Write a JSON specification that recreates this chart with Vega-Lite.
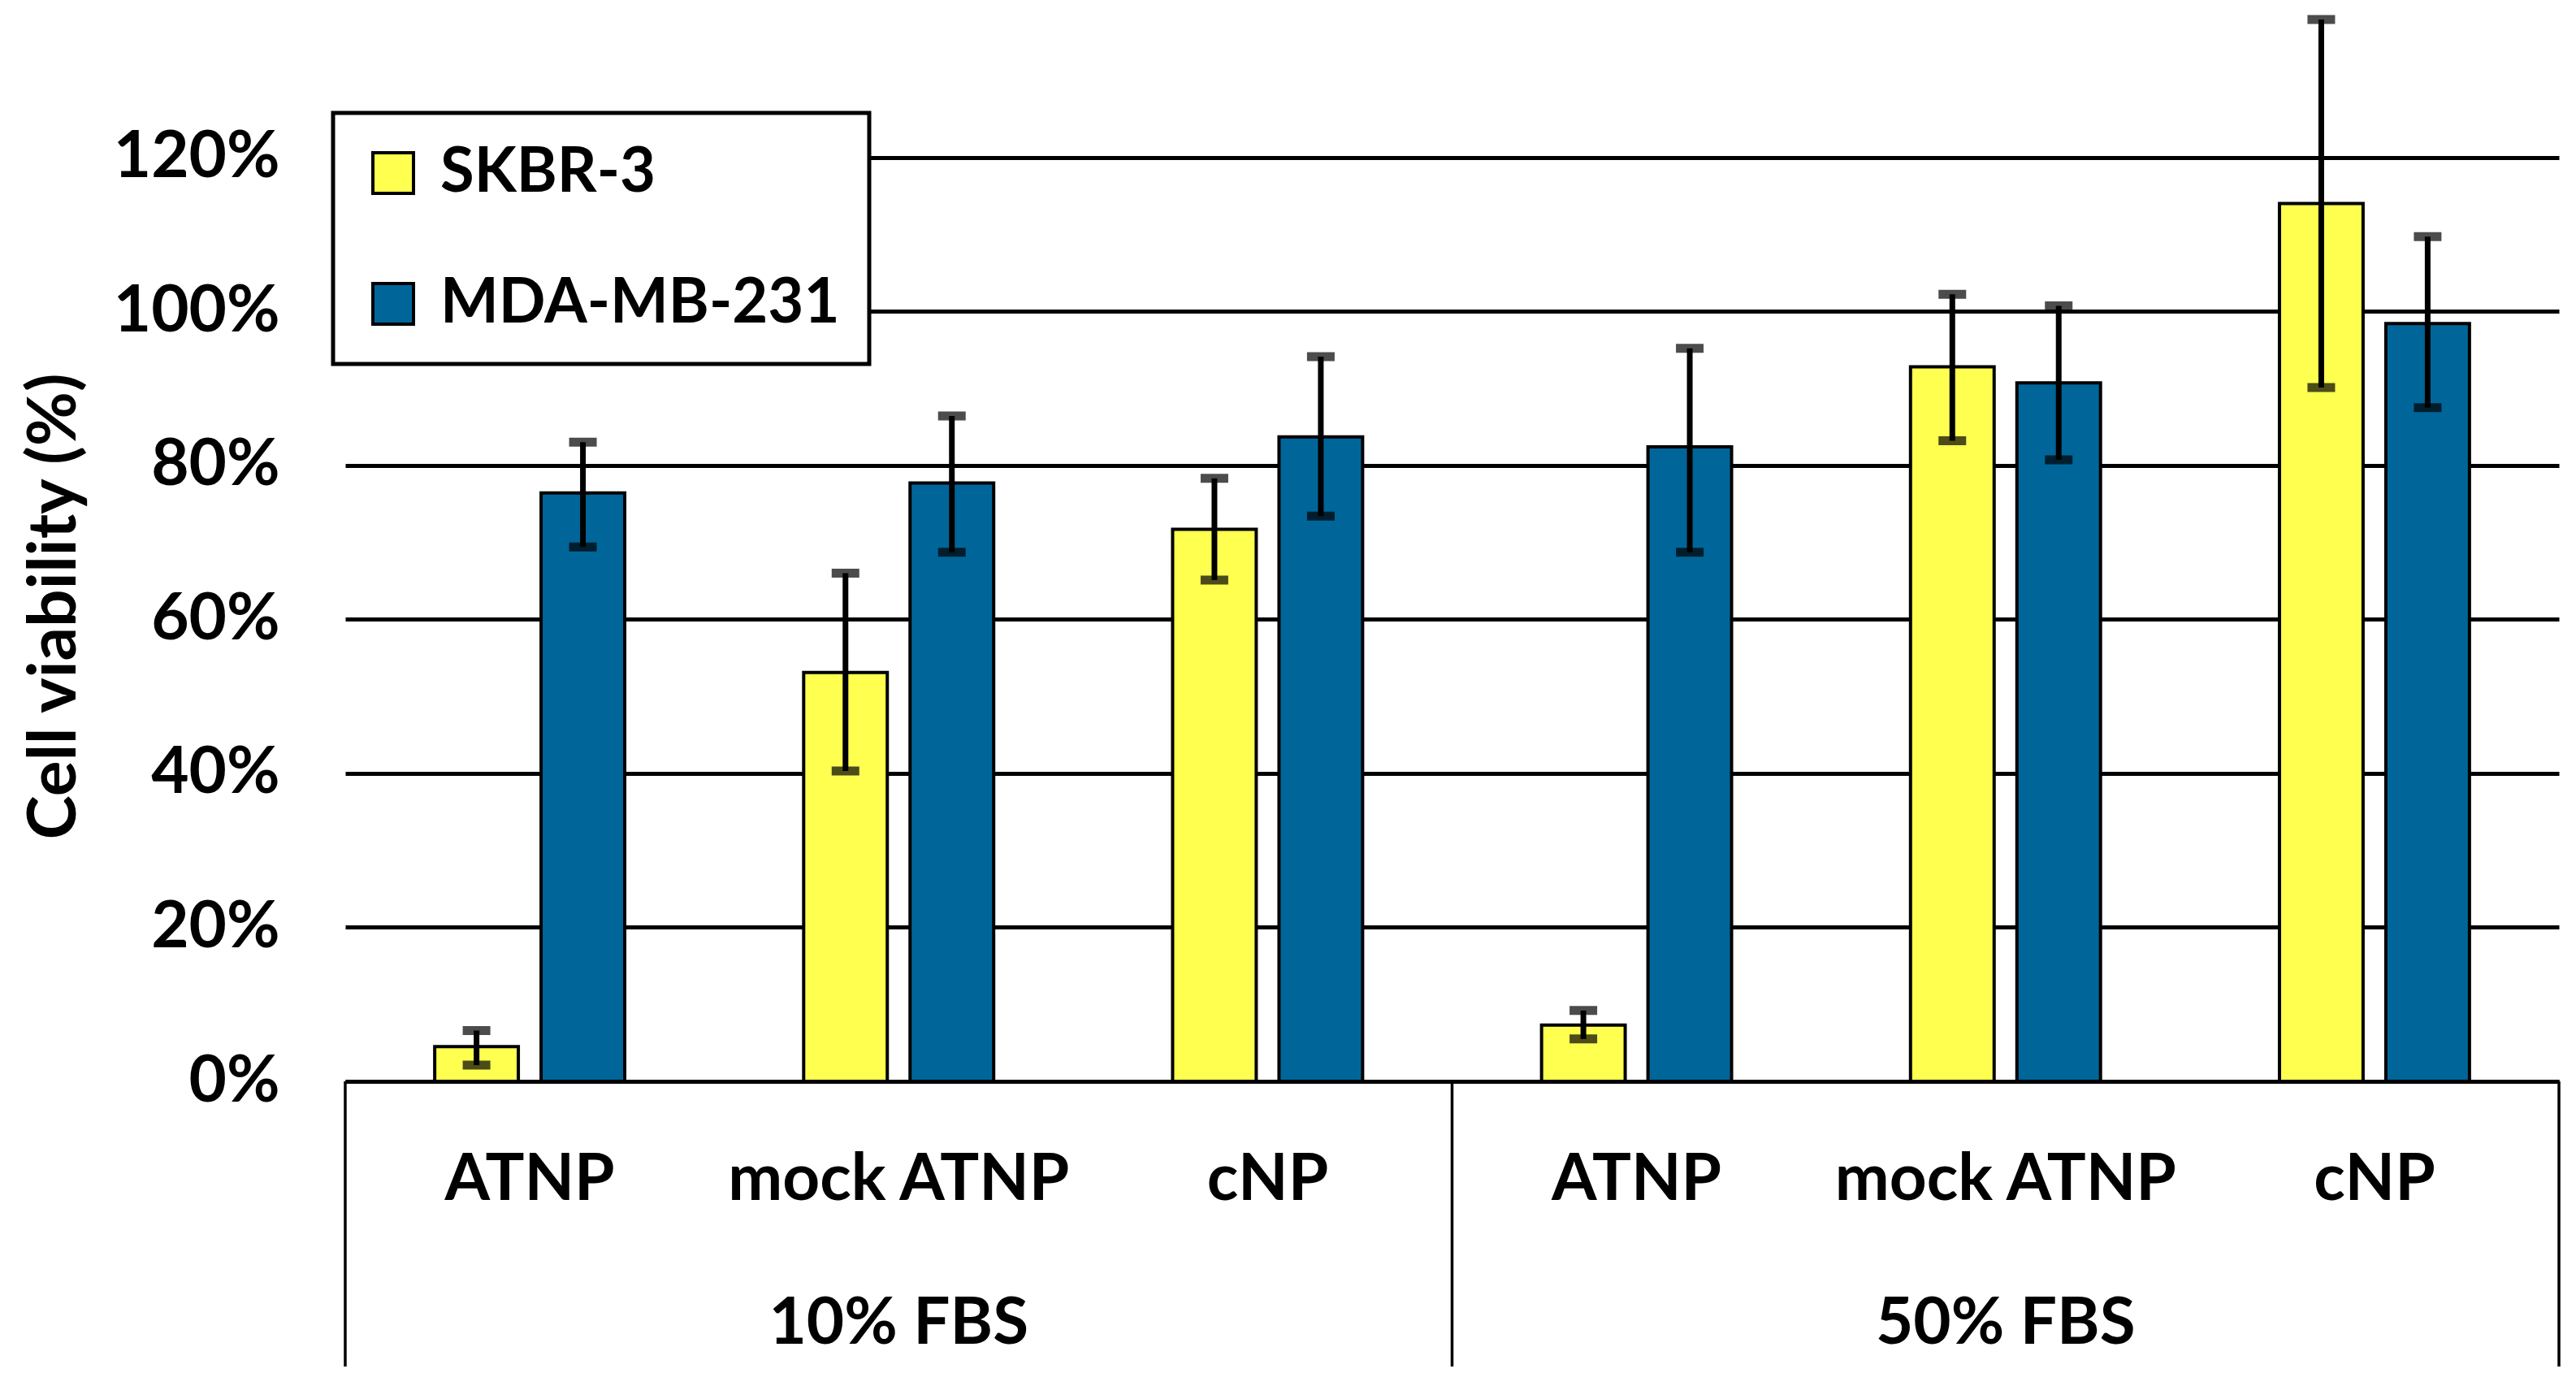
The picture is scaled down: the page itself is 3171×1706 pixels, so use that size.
{
  "$schema": "https://vega.github.io/schema/vega-lite/v6.json",
  "width": 2725,
  "height": 1327,
  "autosize": {"type": "none"},
  "padding": {"left": 425, "top": 4, "right": 21, "bottom": 375},
  "background": "white",
  "config": {
    "view": {"stroke": null},
    "font": "Lato",
    "axis": {"labelFont": "Lato", "labelFontWeight": "bold", "labelColor": "black", "titleFont": "Lato", "titleFontWeight": "bold", "titleColor": "black"},
    "legend": {"labelFont": "Lato", "labelFontWeight": "bold", "labelColor": "black"}
  },
  "data": {
    "values": [
      {"cat": "10% FBS|ATNP", "line": "SKBR-3", "value": 0.045, "lo": 0.021, "hi": 0.066},
      {"cat": "10% FBS|ATNP", "line": "MDA-MB-231", "value": 0.764, "lo": 0.694, "hi": 0.830},
      {"cat": "10% FBS|mock ATNP", "line": "SKBR-3", "value": 0.531, "lo": 0.403, "hi": 0.660},
      {"cat": "10% FBS|mock ATNP", "line": "MDA-MB-231", "value": 0.777, "lo": 0.687, "hi": 0.864},
      {"cat": "10% FBS|cNP", "line": "SKBR-3", "value": 0.717, "lo": 0.651, "hi": 0.783},
      {"cat": "10% FBS|cNP", "line": "MDA-MB-231", "value": 0.837, "lo": 0.734, "hi": 0.941},
      {"cat": "50% FBS|ATNP", "line": "SKBR-3", "value": 0.073, "lo": 0.055, "hi": 0.092},
      {"cat": "50% FBS|ATNP", "line": "MDA-MB-231", "value": 0.824, "lo": 0.687, "hi": 0.952},
      {"cat": "50% FBS|mock ATNP", "line": "SKBR-3", "value": 0.928, "lo": 0.832, "hi": 1.022},
      {"cat": "50% FBS|mock ATNP", "line": "MDA-MB-231", "value": 0.907, "lo": 0.807, "hi": 1.007},
      {"cat": "50% FBS|cNP", "line": "SKBR-3", "value": 1.140, "lo": 0.901, "hi": 1.379},
      {"cat": "50% FBS|cNP", "line": "MDA-MB-231", "value": 0.984, "lo": 0.875, "hi": 1.097}
    ]
  },
  "encoding": {
    "x": {
      "field": "cat", "type": "nominal", "sort": null,
      "scale": {"paddingInner": 0.485, "paddingOuter": 0.2425},
      "axis": {
        "title": null, "labelAngle": 0, "ticks": false, "tickSize": 0,
        "domain": true, "domainColor": "black", "domainWidth": 5,
        "labelFontSize": 80, "labelPadding": 82, "labelBaseline": "top",
        "labelLineHeight": 177, "labelOverlap": false, "labelBound": false, "labelLimit": 0,
        "labelExpr": "split(datum.label, '|')[1] == 'mock ATNP' ? ['mock ATNP', split(datum.label, '|')[0]] : split(datum.label, '|')[1]"
      }
    }
  },
  "layer": [
    {
      "mark": {"type": "bar", "stroke": "black", "strokeWidth": 4},
      "encoding": {
        "xOffset": {"field": "line", "type": "nominal", "sort": ["SKBR-3", "MDA-MB-231"], "scale": {"paddingInner": 0.214, "paddingOuter": 0}},
        "y": {
          "field": "value", "type": "quantitative",
          "scale": {"domain": [0, 1.4], "nice": false, "zero": true},
          "axis": {
            "values": [0, 0.2, 0.4, 0.6, 0.8, 1.0, 1.2], "format": ".0%",
            "grid": true, "gridColor": "black", "gridWidth": 5, "gridOpacity": 1,
            "domain": false, "ticks": false, "tickSize": 0,
            "labelFontSize": 80, "labelPadding": 81, "labelLimit": 0,
            "title": "Cell viability (%)", "titleFontSize": 82, "titleLimit": 0,
            "titleAngle": 270, "titleX": -358, "titleY": 742, "titleAlign": "center", "titleBaseline": "middle"
          }
        },
        "color": {
          "field": "line", "type": "nominal", "sort": ["SKBR-3", "MDA-MB-231"],
          "scale": {"domain": ["SKBR-3", "MDA-MB-231"], "range": ["#FFFF50", "#00669A"]},
          "legend": {
            "title": null, "orient": "none", "legendX": -15, "legendY": 135,
            "symbolType": "square", "symbolSize": 2500, "symbolStrokeColor": "black", "symbolStrokeWidth": 4,
            "labelFontSize": 76, "labelOffset": 20, "labelBaseline": "middle", "labelLimit": 0,
            "rowPadding": 85, "padding": 36,
            "strokeColor": "black", "fillColor": "white",
            "encode": {"legend": {"update": {"strokeWidth": {"value": 5}}}}
          }
        }
      }
    },
    {
      "mark": {"type": "rule", "color": "black", "strokeWidth": 7},
      "encoding": {
        "xOffset": {"field": "line", "type": "nominal", "sort": ["SKBR-3", "MDA-MB-231"]},
        "y": {"field": "lo", "type": "quantitative"},
        "y2": {"field": "hi"}
      }
    },
    {
      "mark": {"type": "tick", "color": "black", "size": 34, "thickness": 11},
      "encoding": {
        "xOffset": {"field": "line", "type": "nominal", "sort": ["SKBR-3", "MDA-MB-231"]},
        "y": {"field": "lo", "type": "quantitative"}
      }
    },
    {
      "mark": {"type": "tick", "color": "black", "size": 34, "thickness": 11},
      "encoding": {
        "xOffset": {"field": "line", "type": "nominal", "sort": ["SKBR-3", "MDA-MB-231"]},
        "y": {"field": "hi", "type": "quantitative"}
      }
    },
    {
      "data": {"values": [{"cat": "10% FBS|ATNP"}, {"cat": "50% FBS|ATNP"}]},
      "mark": {"type": "rule", "color": "black", "strokeWidth": 3.5, "clip": false},
      "encoding": {
        "x": {"field": "cat", "type": "nominal", "bandPosition": -0.471},
        "y": {"datum": 0},
        "y2": {"datum": -0.3703}
      }
    },
    {
      "data": {"values": [{"cat": "50% FBS|cNP"}]},
      "mark": {"type": "rule", "color": "black", "strokeWidth": 3.5, "clip": false},
      "encoding": {
        "x": {"field": "cat", "type": "nominal", "bandPosition": 1.471},
        "y": {"datum": 0},
        "y2": {"datum": -0.3703}
      }
    }
  ]
}
